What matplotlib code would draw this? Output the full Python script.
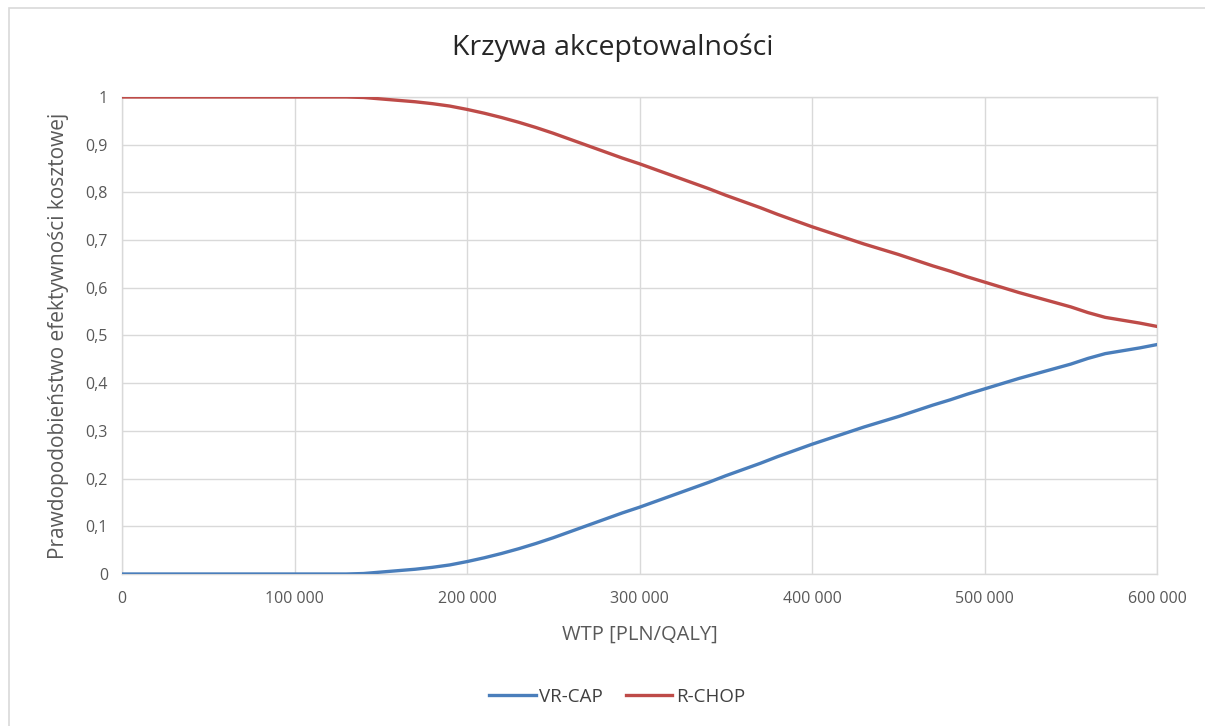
import matplotlib
matplotlib.use("Agg")
import matplotlib.pyplot as plt
from matplotlib.patches import Rectangle
from matplotlib.ticker import FuncFormatter, MultipleLocator

# Willingness-to-pay thresholds [PLN/QALY]
wtp = [0, 50000, 100000, 130000, 140000, 150000, 160000, 170000, 180000, 190000,
       200000, 210000, 220000, 230000, 240000, 250000, 260000, 270000, 280000, 290000,
       300000, 310000, 320000, 330000, 340000, 350000, 360000, 370000, 380000, 390000,
       400000, 410000, 420000, 430000, 440000, 450000, 460000, 470000, 480000, 490000,
       500000, 510000, 520000, 530000, 540000, 550000, 560000, 570000, 580000, 590000,
       600000]

# Probability of cost-effectiveness per strategy
vr_cap = [0.0, 0.0, 0.0, 0.0, 0.001, 0.004, 0.007, 0.010, 0.014, 0.019,
          0.026, 0.034, 0.043, 0.053, 0.064, 0.076, 0.089, 0.102, 0.115, 0.128,
          0.140, 0.153, 0.166, 0.179, 0.192, 0.206, 0.219, 0.232, 0.246, 0.259,
          0.272, 0.284, 0.296, 0.308, 0.319, 0.330, 0.342, 0.354, 0.365, 0.377,
          0.388, 0.399, 0.410, 0.420, 0.430, 0.440, 0.452, 0.462, 0.468, 0.474,
          0.481]
r_chop = [1.0, 1.0, 1.0, 1.0, 0.999, 0.996, 0.993, 0.990, 0.986, 0.981,
          0.974, 0.966, 0.957, 0.947, 0.936, 0.924, 0.911, 0.898, 0.885, 0.872,
          0.860, 0.847, 0.834, 0.821, 0.808, 0.794, 0.781, 0.768, 0.754, 0.741,
          0.728, 0.716, 0.704, 0.692, 0.681, 0.670, 0.658, 0.646, 0.635, 0.623,
          0.612, 0.601, 0.590, 0.580, 0.570, 0.560, 0.548, 0.538, 0.532, 0.526,
          0.519]

series_names = ["VR-CAP", "R-CHOP"]
title = "Krzywa akceptowalności"
xlabel = "WTP [PLN/QALY]"
ylabel = "Prawdopodobieństwo efektywności kosztowej"

plt.rcParams["font.family"] = ["Open Sans", "DejaVu Sans"]

W, H = 1205, 726
fig = plt.figure(figsize=(W / 100, H / 100), dpi=100)
fig.patch.set_facecolor("white")

# outer chart frame
fig.add_artist(Rectangle((9 / W, -0.05), 1.2, 1 - 8 / H + 0.05,
                         transform=fig.transFigure, fill=False,
                         edgecolor="#D9D9D9", linewidth=1.2))

ax = fig.add_axes([122 / W, 1 - 574 / H, (1157 - 122) / W, (574 - 97) / H])

blue = "#4A7EBB"
red = "#BE4B48"
ax.plot(wtp, vr_cap, color=blue, linewidth=2.4, label=series_names[0], zorder=3)
ax.plot(wtp, r_chop, color=red, linewidth=2.4, label=series_names[1], zorder=3)

ax.set_xlim(0, 600000)
ax.set_ylim(0, 1)
ax.xaxis.set_major_locator(MultipleLocator(100000))
ax.yaxis.set_major_locator(MultipleLocator(0.1))


def fmt_x(v, _):
    return f"{int(round(v)):,}".replace(",", " ")


def fmt_y(v, _):
    v = round(v, 1)
    if v == 0:
        return "0"
    if v == 1:
        return "1"
    return f"{v:.1f}".replace(".", ",")


ax.xaxis.set_major_formatter(FuncFormatter(fmt_x))
ax.yaxis.set_major_formatter(FuncFormatter(fmt_y))

ax.grid(True, color="#D9D9D9", linewidth=1.0)
ax.set_axisbelow(True)
for s in ax.spines.values():
    s.set_color("#D9D9D9")
    s.set_linewidth(1.0)

ax.tick_params(axis="both", length=0, labelsize=11.5, colors="#595959")
ax.tick_params(axis="x", pad=12)
ax.tick_params(axis="y", pad=10)

ax.set_xlabel(xlabel, fontsize=14.5, color="#595959", labelpad=13)
ax.set_ylabel(ylabel, fontsize=15, color="#595959", labelpad=12)

fig.text(613 / W, 1 - 48 / H, title, ha="center", va="center",
         fontsize=20.5, color="#262626")

leg = fig.legend(loc="center", bbox_to_anchor=(617 / W, 1 - 697 / H),
                 ncol=2, frameon=False, fontsize=13.5, handlelength=2.5,
                 columnspacing=1.2, handletextpad=0.2)
for t in leg.get_texts():
    t.set_color("#404040")

fig.savefig("out.png", dpi=100)
